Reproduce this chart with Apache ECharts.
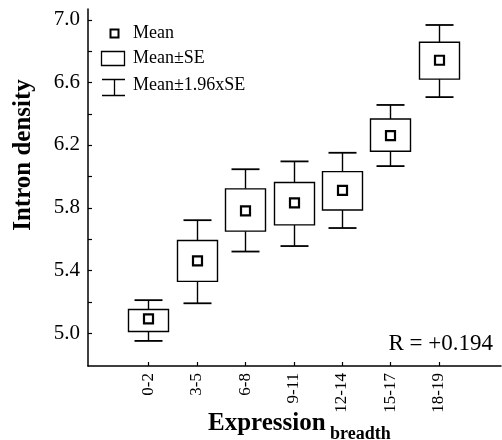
<!DOCTYPE html>
<html>
<head>
<meta charset="utf-8">
<script src="https://cdn.jsdelivr.net/npm/echarts@6/dist/echarts.min.js"></script>
<style>
html,body{margin:0;padding:0;background:#fff;}
#chart{width:502px;height:440px;}
</style>
</head>
<body>
<div id="chart"></div>
<script>
// ---- data ----
var categories = ['0-2', '3-5', '6-8', '9-11', '12-14', '15-17', '18-19'];
var means      = [5.09, 5.46, 5.78, 5.83, 5.91, 6.26, 6.74];
var seLow      = [5.01, 5.33, 5.65, 5.69, 5.785, 6.16, 6.62];
var seHigh     = [5.15, 5.59, 5.92, 5.96, 6.03, 6.365, 6.855];
var ciLow      = [4.95, 5.19, 5.52, 5.555, 5.67, 6.065, 6.505];
var ciHigh     = [5.21, 5.72, 6.045, 6.095, 6.15, 6.455, 6.965];
var yTickLabels = [5.0, 5.4, 5.8, 6.2, 6.6, 7.0];
var yTicks      = [5.0, 5.2, 5.4, 5.6, 5.8, 6.0, 6.2, 6.4, 6.6, 6.8, 7.0];
var rText = 'R = +0.194';

var X_MIN = -1.24, X_MAX = 7.28, Y_MIN = 4.79, Y_MAX = 7.067;

var seriesData = categories.map(function (c, i) {
  return [i, means[i], seLow[i], seHigh[i], ciLow[i], ciHigh[i]];
});
var catIdx = categories.map(function (c, i) { return i; });
// tick marks: [kind, value]  kind 0 = y tick, 1 = x tick
var tickData = yTicks.map(function (v) { return [0, v]; })
  .concat(catIdx.map(function (v) { return [1, v]; }));

var FONT = '"Liberation Serif", "DejaVu Serif", serif';

function renderItem(params, api) {
  var x = api.value(0);
  var pM = api.coord([x, api.value(1)]);
  var pSL = api.coord([x, api.value(2)]);
  var pSH = api.coord([x, api.value(3)]);
  var pCL = api.coord([x, api.value(4)]);
  var pCH = api.coord([x, api.value(5)]);
  var cx = Math.round(pM[0]) + 0.5;
  var bw = 40, cw = 28, mw = 9;
  var ls = { stroke: '#000', lineWidth: 1.4, fill: null };
  return {
    type: 'group',
    children: [
      { type: 'line', shape: { x1: cx, y1: pCH[1], x2: cx, y2: pSH[1] }, style: ls },
      { type: 'line', shape: { x1: cx, y1: pSL[1], x2: cx, y2: pCL[1] }, style: ls },
      { type: 'line', shape: { x1: cx - cw / 2, y1: pCH[1], x2: cx + cw / 2, y2: pCH[1] }, style: { stroke: '#000', lineWidth: 1.8 } },
      { type: 'line', shape: { x1: cx - cw / 2, y1: pCL[1], x2: cx + cw / 2, y2: pCL[1] }, style: { stroke: '#000', lineWidth: 1.8 } },
      { type: 'rect', shape: { x: cx - bw / 2, y: pSH[1], width: bw, height: pSL[1] - pSH[1] }, style: { stroke: '#000', lineWidth: 1.4, fill: '#fff' } },
      { type: 'rect', shape: { x: cx - mw / 2, y: pM[1] - mw / 2, width: mw, height: mw }, style: { stroke: '#000', lineWidth: 2.2, fill: '#fff' } }
    ]
  };
}

function renderTick(params, api) {
  var kind = api.value(0), v = api.value(1);
  var p;
  if (kind === 0) {
    p = api.coord([X_MIN, v]);
    var y = Math.round(p[1]) + 0.5;
    return { type: 'line', shape: { x1: p[0], y1: y, x2: p[0] + 4, y2: y }, style: { stroke: '#000', lineWidth: 1.2 } };
  }
  p = api.coord([v, Y_MIN]);
  var x = Math.round(p[0]) + 0.5;
  return { type: 'line', shape: { x1: x, y1: p[1], x2: x, y2: p[1] - 4 }, style: { stroke: '#000', lineWidth: 1.2 } };
}

var chart = echarts.init(document.getElementById('chart'));
chart.setOption({
  animation: false,
  backgroundColor: '#fff',
  grid: { left: 88, top: 9, right: 1, bottom: 74, containLabel: false },
  xAxis: {
    type: 'value',
    min: X_MIN,
    max: X_MAX,
    splitLine: { show: false },
    axisLine: { show: true, onZero: false, lineStyle: { color: '#000', width: 1.5 } },
    axisTick: { show: false },
    axisLabel: {
      show: true, rotate: 90, margin: 7, customValues: catIdx,
      fontFamily: FONT, fontSize: 17, color: '#000',
      formatter: function (v) { return categories[Math.round(v)]; }
    }
  },
  yAxis: {
    type: 'value',
    min: Y_MIN,
    max: Y_MAX,
    splitLine: { show: false },
    axisLine: { show: true, onZero: false, lineStyle: { color: '#000', width: 1.5 } },
    axisTick: { show: false },
    axisLabel: {
      show: true, margin: 8, customValues: yTickLabels,
      fontFamily: FONT, fontSize: 21, color: '#000',
      formatter: function (v) { return v.toFixed(1); }
    }
  },
  series: [{
    type: 'custom',
    renderItem: renderTick,
    data: tickData,
    silent: true,
    clip: false,
    z: 1
  }, {
    type: 'custom',
    renderItem: renderItem,
    data: seriesData,
    encode: { x: 0, y: [1, 2, 3, 4, 5] },
    clip: false,
    z: 2
  }],
  graphic: [
    // y axis name
    { type: 'text', x: 24, y: 155, rotation: Math.PI / 2,
      style: { text: 'Intron density', font: 'bold 25px ' + FONT, fill: '#000', align: 'center', verticalAlign: 'middle' } },
    // x axis name
    { type: 'text', x: 208, y: 424,
      style: { text: 'Expression', font: 'bold 25px ' + FONT, fill: '#000', align: 'left', verticalAlign: 'middle' } },
    { type: 'text', x: 330, y: 434,
      style: { text: 'breadth', font: 'bold 18px ' + FONT, fill: '#000', align: 'left', verticalAlign: 'middle' } },
    // R value
    { type: 'text', x: 493, y: 344,
      style: { text: rText, font: '23px ' + FONT, fill: '#000', align: 'right', verticalAlign: 'middle' } },
    // legend: Mean
    { type: 'rect', shape: { x: 110.5, y: 29.5, width: 8, height: 8 }, style: { stroke: '#000', lineWidth: 2, fill: '#fff' } },
    { type: 'text', x: 133, y: 33, style: { text: 'Mean', font: '18px ' + FONT, fill: '#000', align: 'left', verticalAlign: 'middle' } },
    // legend: Mean±SE
    { type: 'rect', shape: { x: 101.5, y: 51.5, width: 23, height: 14 }, style: { stroke: '#000', lineWidth: 1.3, fill: '#fff' } },
    { type: 'text', x: 133, y: 58, style: { text: 'Mean\u00b1SE', font: '18px ' + FONT, fill: '#000', align: 'left', verticalAlign: 'middle' } },
    // legend: Mean±1.96xSE
    { type: 'line', shape: { x1: 102, y1: 79.5, x2: 125, y2: 79.5 }, style: { stroke: '#000', lineWidth: 1.5 } },
    { type: 'line', shape: { x1: 102, y1: 95.5, x2: 125, y2: 95.5 }, style: { stroke: '#000', lineWidth: 1.5 } },
    { type: 'line', shape: { x1: 114.5, y1: 79.5, x2: 114.5, y2: 95.5 }, style: { stroke: '#000', lineWidth: 1.3 } },
    { type: 'text', x: 133, y: 85, style: { text: 'Mean\u00b11.96xSE', font: '18px ' + FONT, fill: '#000', align: 'left', verticalAlign: 'middle' } }
  ]
});
</script>
</body>
</html>
